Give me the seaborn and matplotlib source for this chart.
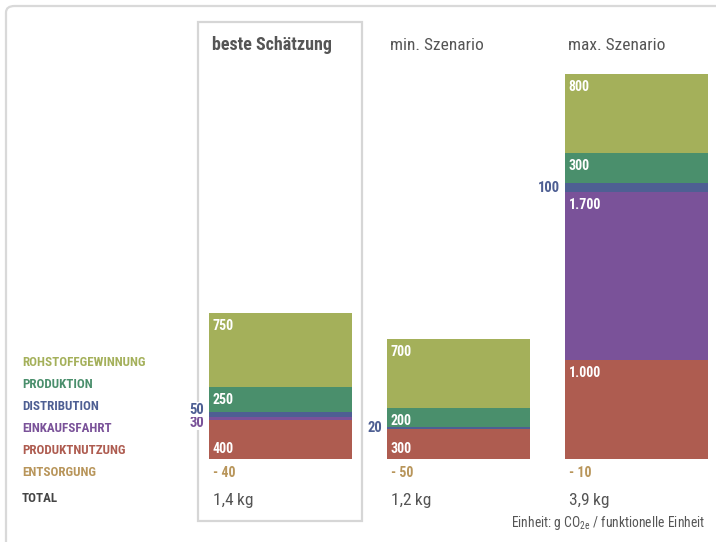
import matplotlib
matplotlib.use("Agg")
import matplotlib.pyplot as plt
from matplotlib.patches import FancyBboxPatch, Rectangle
from matplotlib import font_manager
import seaborn as sns
import pandas as pd
import numpy as np

# ---------------- data ----------------
scenarios = ["beste Schätzung", "min. Szenario", "max. Szenario"]
rohstoff = [750, 700, 800]
produktion = [250, 200, 300]
distribution = [50, 20, 100]
einkaufsfahrt = [30, 0, 1700]
nutzung = [400, 300, 1000]
entsorgung = [-40, -50, -10]
totals = ["1,4\u2009kg", "1,2\u2009kg", "3,9\u2009kg"]
legend_labels = ["ROHSTOFFGEWINNUNG", "PRODUKTION", "DISTRIBUTION",
                 "EINKAUFSFAHRT", "PRODUKTNUTZUNG", "ENTSORGUNG"]
unit_text = r"Einheit: g CO$_{\mathregular{2e}}$ / funktionelle Einheit"

# ---------------- style ----------------
sns.set_theme(style="white")
avail = {f.name for f in font_manager.fontManager.ttflist}
fam = "DejaVu Sans"
for cand in ["Roboto Condensed", "Liberation Sans Narrow", "Roboto", "Liberation Sans"]:
    if cand in avail:
        fam = cand
        break
plt.rcParams["font.family"] = [fam, "DejaVu Sans"]
plt.rcParams["mathtext.fontset"] = "custom"
plt.rcParams["mathtext.rm"] = fam
plt.rcParams["mathtext.it"] = fam

C_ROH = "#a4b05a"
C_PRO = "#4a8f6c"
C_DIS = "#4e5f93"
C_EIN = "#7a5299"
C_NUT = "#ae5c50"
C_ENT = "#b8955a"
C_TOT = "#444444"
C_GRAY = "#555555"
seg_colors = [C_ROH, C_PRO, C_DIS, C_EIN, C_NUT, C_ENT]

W, H = 716, 542
fig = plt.figure(figsize=(W / 100, H / 100), dpi=100)
fig.patch.set_facecolor("white")

def fx(px):
    return px / W

def fy(py):
    return 1 - py / H

# outer frame (rounded corner top-left)
frame = FancyBboxPatch((fx(6), fy(560)), fx(740), fy(6) - fy(560),
                       boxstyle="round,pad=0,rounding_size=0.012",
                       transform=fig.transFigure, fill=False,
                       edgecolor="#d9d9d9", linewidth=1.6, zorder=-5)
fig.patches.append(frame)
# highlight box for best estimate
box = Rectangle((fx(198), fy(521)), fx(362) - fx(198), fy(22) - fy(521),
                transform=fig.transFigure, fill=False,
                edgecolor="#d6d6d6", linewidth=1.6, zorder=-5)
fig.patches.append(box)

# ---------------- axes for bars ----------------
base_px = 459
ymax = 3900
ax_h_px = 385
spacing = 178
left_px = 280.5 - spacing / 2
ax = fig.add_axes([fx(left_px), fy(base_px), fx(3 * spacing), ax_h_px / H])
ax.set_zorder(2)
ax.patch.set_alpha(0)
ax.set_xlim(-0.5, 2.5)
ax.set_ylim(0, ymax)
u_per_px = ymax / ax_h_px

stack_vals = [nutzung, einkaufsfahrt, distribution, produktion, rohstoff]
stack_cols = [C_NUT, C_EIN, C_DIS, C_PRO, C_ROH]
cum = np.cumsum(np.array(stack_vals), axis=0)
bar_w = 0.805
for i in range(len(stack_vals) - 1, -1, -1):
    df = pd.DataFrame({"szenario": scenarios, "wert": cum[i]})
    sns.barplot(data=df, x="szenario", y="wert", color=stack_cols[i],
                saturation=1, width=bar_w, errorbar=None, ax=ax,
                linewidth=0, edgecolor="none")
ax.set_xlim(-0.5, 2.5)
ax.set_ylim(0, ymax)
ax.set_axis_off()

def fmt(v):
    return f"{v:,}".replace(",", ".")

# value labels
for j in range(3):
    xl = j - bar_w / 2
    bottoms = np.concatenate([[0], cum[:-1, j]])
    small = []
    for i, vals in enumerate(stack_vals):
        v = vals[j]
        if v == 0:
            continue
        top = cum[i, j]
        if v >= 150:
            if i == 0 and v < 500:
                y = 10 * u_per_px
            else:
                y = top - 13 * u_per_px
            ax.text(xl + 4 / spacing, y, fmt(v), color="white", fontsize=10,
                    fontweight="bold", ha="left", va="center")
        else:
            small.append((i, v, (bottoms[i] + top) / 2))
    if len(small) == 2:
        mid = (small[0][2] + small[1][2]) / 2
        ys = {small[0][0]: mid - 6.5 * u_per_px, small[1][0]: mid + 6.5 * u_per_px}
    else:
        ys = {s[0]: s[2] for s in small}
    for i, v, c in small:
        ax.text(xl - 5 / spacing, ys[i], fmt(v), color=stack_cols[i],
                fontsize=10.5, fontweight="bold", ha="right", va="center",
                bbox=dict(facecolor="white", edgecolor="none", pad=0.5))
    # Entsorgung and total below bars
    ax.text(xl + 4 / spacing, -14 * u_per_px, f"- {abs(entsorgung[j])}",
            color=C_ENT, fontsize=10, fontweight="bold", ha="left", va="center")
    ax.text(xl + 4 / spacing, -41 * u_per_px, totals[j], color=C_GRAY,
            fontsize=12.5, ha="left", va="center")
    # column titles
    ax.text(xl + 3 / spacing, (base_px - 45) * u_per_px, scenarios[j],
            color=C_GRAY, fontsize=13 if j == 0 else 12.5,
            fontweight="bold" if j == 0 else "normal",
            ha="left", va="center")

# legend labels on the left
leg_y = [362, 384, 406, 428, 450, 472]
for lab, col, yy in zip(legend_labels, seg_colors, leg_y):
    fig.text(fx(22), fy(yy), lab, color=col, fontsize=9.4, fontweight="bold",
             ha="left", va="center")
fig.text(fx(22), fy(499), "TOTAL", color=C_TOT, fontsize=9.4,
         fontweight="bold", ha="left", va="center")

fig.text(fx(705), fy(523), unit_text, color=C_GRAY, fontsize=9.8,
         ha="right", va="center")

fig.savefig("out.png", dpi=100, facecolor="white")
